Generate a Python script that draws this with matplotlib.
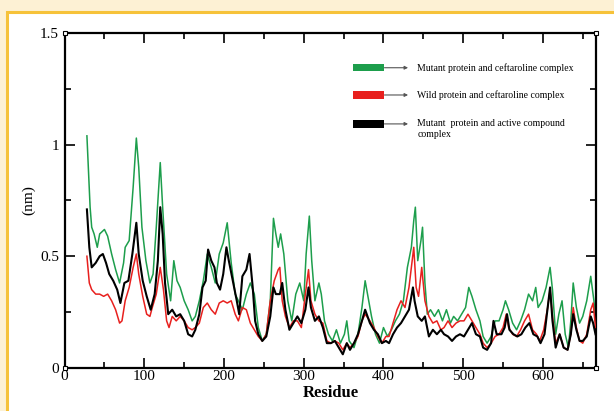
import matplotlib
matplotlib.use("Agg")
import matplotlib.pyplot as plt
from matplotlib.patches import Rectangle
from matplotlib.ticker import MultipleLocator

plt.rcParams["font.family"] = ["Liberation Serif", "DejaVu Serif"]

# RMSF per residue
green_res = [28, 32, 34, 37, 41, 44, 50, 54, 59, 64,
             69, 74, 76, 81, 86, 90, 93, 97, 102, 107,
             111, 115, 120, 123, 128, 133, 137, 141, 145, 150,
             155, 160, 164, 169, 174, 179, 184, 189, 194, 199,
             204, 209, 214, 218, 223, 228, 233, 238, 243, 248,
             253, 258, 262, 265, 268, 271, 275, 280, 285, 290,
             295, 300, 303, 307, 310, 314, 319, 322, 326, 331,
             336, 341, 346, 351, 354, 357, 363, 368, 373, 377,
             380, 385, 390, 395, 400, 405, 410, 415, 420, 425,
             430, 435, 438, 440, 443, 447, 449, 452, 455, 459,
             464, 469, 474, 479, 484, 488, 493, 498, 503, 507,
             511, 516, 521, 525, 530, 535, 540, 545, 550, 553,
             557, 562, 567, 572, 577, 582, 587, 591, 594, 599,
             604, 609, 612, 616, 620, 624, 628, 632, 635, 638,
             642, 646, 650, 655, 660, 664, 666]
green_val = [1.04, 0.72, 0.63, 0.60, 0.54, 0.60, 0.62, 0.59, 0.51, 0.44,
             0.38, 0.47, 0.54, 0.57, 0.81, 1.03, 0.90, 0.63, 0.48, 0.38,
             0.42, 0.63, 0.92, 0.72, 0.42, 0.30, 0.48, 0.39, 0.36, 0.30,
             0.26, 0.21, 0.23, 0.30, 0.39, 0.51, 0.45, 0.38, 0.51, 0.56,
             0.65, 0.47, 0.33, 0.30, 0.26, 0.33, 0.38, 0.33, 0.18, 0.12,
             0.15, 0.30, 0.67, 0.60, 0.54, 0.60, 0.51, 0.30, 0.21, 0.33,
             0.38, 0.30, 0.51, 0.68, 0.48, 0.30, 0.38, 0.33, 0.21, 0.15,
             0.12, 0.17, 0.11, 0.15, 0.21, 0.12, 0.09, 0.15, 0.27, 0.39,
             0.33, 0.23, 0.15, 0.11, 0.18, 0.14, 0.17, 0.21, 0.24, 0.30,
             0.45, 0.54, 0.66, 0.72, 0.48, 0.57, 0.63, 0.38, 0.24, 0.26,
             0.23, 0.26, 0.21, 0.26, 0.20, 0.23, 0.21, 0.24, 0.27, 0.36,
             0.32, 0.26, 0.21, 0.14, 0.11, 0.14, 0.21, 0.21, 0.26, 0.30,
             0.26, 0.20, 0.17, 0.21, 0.26, 0.33, 0.30, 0.36, 0.27, 0.30,
             0.36, 0.45, 0.35, 0.15, 0.24, 0.30, 0.15, 0.09, 0.21, 0.38,
             0.27, 0.20, 0.23, 0.30, 0.41, 0.30, 0.21]

red_res = [28, 31, 34, 39, 44, 49, 54, 59, 64, 69,
           72, 76, 81, 86, 90, 93, 98, 103, 107, 110,
           115, 120, 124, 128, 131, 135, 140, 145, 150, 155,
           160, 164, 169, 174, 179, 184, 189, 194, 199, 204,
           209, 214, 218, 223, 228, 233, 238, 243, 248, 253,
           258, 263, 268, 270, 273, 277, 282, 287, 292, 297,
           302, 306, 309, 314, 319, 324, 329, 334, 339, 344,
           349, 354, 358, 363, 368, 373, 377, 383, 388, 393,
           398, 403, 407, 412, 417, 422, 427, 432, 435, 438,
           441, 444, 448, 452, 457, 462, 467, 472, 476, 481,
           486, 491, 496, 501, 506, 511, 516, 521, 525, 530,
           535, 540, 545, 550, 554, 557, 562, 567, 572, 577,
           582, 587, 592, 596, 601, 606, 609, 612, 616, 621,
           626, 631, 635, 638, 642, 646, 650, 655, 660, 663,
           666]
red_val = [0.50, 0.38, 0.35, 0.33, 0.33, 0.32, 0.33, 0.30, 0.26, 0.20,
           0.21, 0.30, 0.36, 0.45, 0.51, 0.42, 0.32, 0.24, 0.23, 0.27,
           0.33, 0.45, 0.35, 0.21, 0.18, 0.23, 0.21, 0.23, 0.21, 0.18,
           0.17, 0.18, 0.20, 0.27, 0.29, 0.26, 0.24, 0.29, 0.30, 0.29,
           0.30, 0.24, 0.21, 0.27, 0.26, 0.20, 0.17, 0.14, 0.12, 0.15,
           0.30, 0.39, 0.44, 0.45, 0.30, 0.23, 0.18, 0.21, 0.21, 0.18,
           0.33, 0.44, 0.30, 0.24, 0.21, 0.20, 0.12, 0.11, 0.12, 0.11,
           0.08, 0.11, 0.09, 0.11, 0.14, 0.21, 0.24, 0.21, 0.18, 0.14,
           0.11, 0.14, 0.14, 0.20, 0.26, 0.30, 0.27, 0.36, 0.45, 0.54,
           0.36, 0.32, 0.45, 0.30, 0.23, 0.20, 0.21, 0.17, 0.18, 0.21,
           0.18, 0.20, 0.21, 0.21, 0.24, 0.21, 0.18, 0.15, 0.11, 0.09,
           0.11, 0.14, 0.15, 0.18, 0.24, 0.18, 0.15, 0.14, 0.17, 0.21,
           0.24, 0.17, 0.15, 0.12, 0.17, 0.27, 0.35, 0.23, 0.11, 0.15,
           0.09, 0.08, 0.15, 0.27, 0.18, 0.12, 0.11, 0.15, 0.26, 0.29,
           0.18]

black_res = [28, 31, 34, 39, 44, 48, 52, 56, 61, 66,
             70, 75, 80, 85, 90, 93, 98, 103, 108, 113,
             117, 120, 123, 126, 130, 135, 140, 145, 150, 155,
             160, 164, 169, 173, 177, 180, 184, 188, 191, 195,
             199, 203, 206, 211, 216, 219, 223, 228, 232, 236,
             239, 243, 248, 253, 258, 262, 265, 270, 273, 277,
             282, 287, 292, 297, 302, 306, 309, 314, 319, 324,
             329, 334, 339, 344, 349, 354, 358, 363, 368, 373,
             377, 383, 388, 393, 398, 403, 407, 412, 417, 422,
             427, 432, 437, 439, 443, 448, 452, 457, 462, 467,
             472, 476, 481, 486, 491, 496, 501, 506, 511, 516,
             521, 525, 530, 535, 538, 542, 548, 552, 555, 558,
             563, 568, 573, 578, 583, 588, 593, 597, 602, 606,
             609, 612, 616, 621, 626, 631, 635, 638, 642, 646,
             650, 655, 660, 663, 666]
black_val = [0.71, 0.54, 0.45, 0.47, 0.50, 0.51, 0.47, 0.42, 0.39, 0.35,
             0.29, 0.38, 0.39, 0.51, 0.65, 0.51, 0.39, 0.32, 0.26, 0.33,
             0.48, 0.72, 0.60, 0.38, 0.24, 0.26, 0.23, 0.24, 0.21, 0.15,
             0.14, 0.17, 0.24, 0.36, 0.39, 0.53, 0.48, 0.45, 0.38, 0.35,
             0.42, 0.54, 0.48, 0.39, 0.30, 0.24, 0.41, 0.44, 0.51, 0.36,
             0.21, 0.15, 0.12, 0.14, 0.23, 0.36, 0.33, 0.33, 0.38, 0.26,
             0.17, 0.20, 0.23, 0.20, 0.26, 0.36, 0.27, 0.21, 0.23, 0.18,
             0.11, 0.11, 0.12, 0.09, 0.06, 0.11, 0.08, 0.11, 0.15, 0.21,
             0.26, 0.20, 0.17, 0.15, 0.11, 0.12, 0.11, 0.15, 0.18, 0.20,
             0.23, 0.26, 0.36, 0.30, 0.23, 0.21, 0.23, 0.14, 0.17, 0.15,
             0.17, 0.15, 0.14, 0.12, 0.14, 0.15, 0.14, 0.17, 0.20, 0.15,
             0.14, 0.09, 0.08, 0.11, 0.21, 0.15, 0.15, 0.18, 0.24, 0.17,
             0.15, 0.14, 0.15, 0.18, 0.20, 0.15, 0.14, 0.11, 0.15, 0.27,
             0.36, 0.21, 0.09, 0.15, 0.09, 0.08, 0.15, 0.24, 0.17, 0.12,
             0.12, 0.14, 0.23, 0.20, 0.15]

assert len(green_res) == len(green_val)
assert len(red_res) == len(red_val)
assert len(black_res) == len(black_val)

series_labels = [
    "Mutant protein and ceftaroline complex",
    "Wild protein and ceftaroline complex",
    "Mutant  protein and active compound",
]

GREEN = "#1d9e4c"
RED = "#e8201e"
BLACK = "#000000"
CREAM = "#fdf1d4"
GOLD = "#f6c23a"

fig = plt.figure(figsize=(6.14, 4.11), dpi=100, facecolor=CREAM)
# white panel with gold frame (left/top edges visible)
fig.patches.append(Rectangle((7 / 614, -0.1), 1.2, 1.1 - 12 / 411,
                             transform=fig.transFigure, facecolor="white",
                             edgecolor=GOLD, linewidth=2.2, zorder=-5))

ax = fig.add_axes([0.1052, 0.1054, 0.8660, 0.8136])
ax.set_facecolor("white")

ax.plot(green_res, green_val, color=GREEN, lw=1.1, zorder=2)
ax.plot(red_res, red_val, color=RED, lw=1.1, zorder=3)
ax.plot(black_res, black_val, color=BLACK, lw=1.5, zorder=4)

ax.set_xlim(0, 667)
ax.set_ylim(0, 1.5)
ax.xaxis.set_major_locator(MultipleLocator(100))
ax.xaxis.set_minor_locator(MultipleLocator(50))
ax.yaxis.set_minor_locator(MultipleLocator(0.25))
ax.set_yticks([0, 0.5, 1, 1.5])
ax.set_yticklabels(["0", "0.5", "1", "1.5"])

for s in ax.spines.values():
    s.set_linewidth(1.6)
ax.tick_params(which="both", direction="in", top=True, right=True, width=1.2)
ax.tick_params(which="major", length=7, labelsize=11, pad=2)
ax.tick_params(which="minor", length=4)
ax.tick_params(axis="y", pad=4)

ax.set_xlabel("Residue", fontsize=12, fontweight="bold", labelpad=1)
ax.set_ylabel("(nm)", fontsize=11, labelpad=3)

# corner squares from the original plotting tool
ax.plot([0, 1, 0, 1], [0, 0, 1, 1], "s", ms=3.5, mfc="white", mec=BLACK,
        mew=0.8, transform=ax.transAxes, clip_on=False, zorder=6)

# hand-drawn legend: colour bar, arrow, text
legend_rows = [0.897, 0.8155, 0.729]
for y, col, text in zip(legend_rows, [GREEN, RED, BLACK], series_labels):
    ax.add_patch(Rectangle((0.5425, y - 0.011), 0.059, 0.022, transform=ax.transAxes,
                           facecolor=col, edgecolor="none", zorder=5))
    ax.annotate("", xy=(0.646, y), xytext=(0.6015, y), xycoords="axes fraction",
                arrowprops=dict(arrowstyle="-|>", color="#555555", lw=0.8,
                                mutation_scale=5, shrinkA=0, shrinkB=0))
    ax.text(0.663, y, text, transform=ax.transAxes, fontsize=7.0,
            va="center", ha="left")
ax.text(0.663, 0.697, "complex", transform=ax.transAxes, fontsize=7.0,
        va="center", ha="left")

fig.savefig("out.png", dpi=100, facecolor=CREAM)
